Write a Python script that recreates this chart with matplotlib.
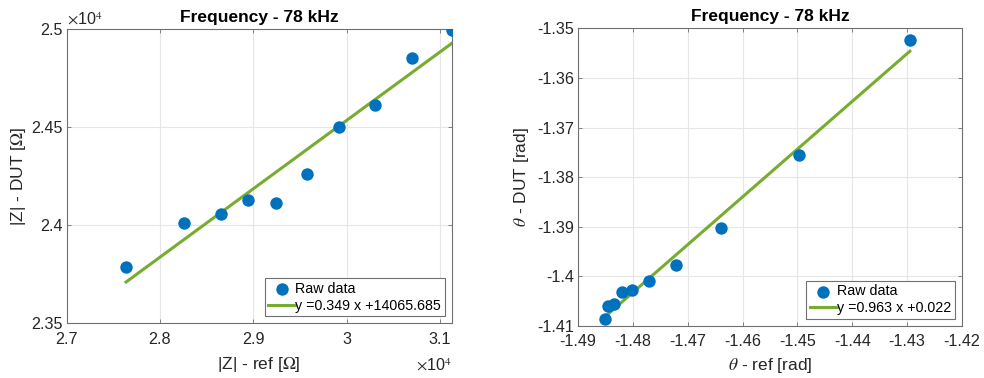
import matplotlib
matplotlib.use("Agg")
import matplotlib.pyplot as plt
import numpy as np
from matplotlib.ticker import FuncFormatter, FixedLocator

plt.rcParams['font.family'] = ['Liberation Sans', 'DejaVu Sans']
plt.rcParams['mathtext.fontset'] = 'stix'

# ---- data: magnitude ----
z_ref = [27636, 28254, 28657, 28939, 29243, 29571, 29921, 30304, 30704, 31125]
z_dut = [23786, 24012, 24056, 24128, 24116, 24264, 24502, 24614, 24854, 24998]
z_slope, z_icpt = 0.349, 14065.685
z_fit_label = "y =0.349 x +14065.685"

# ---- data: phase ----
th_ref = [-1.4851, -1.4845, -1.4834, -1.4819, -1.4802, -1.4770, -1.4721, -1.4639, -1.4498, -1.4295]
th_dut = [-1.4086, -1.4060, -1.4055, -1.4032, -1.4027, -1.4009, -1.3977, -1.3902, -1.3756, -1.3523]
th_slope, th_icpt = 0.963, 0.022
th_fit_label = "y =0.963 x +0.022"

title = "Frequency - 78 kHz"
z_xticks = [27000, 28000, 29000, 30000, 31000]
z_yticks = [23500, 24000, 24500, 25000]
th_xticks = [-1.49, -1.48, -1.47, -1.46, -1.45, -1.44, -1.43, -1.42]
th_yticks = [-1.41, -1.40, -1.39, -1.38, -1.37, -1.36, -1.35]

BLUE = '#0072BD'
GREEN = '#77AC30'
TXT = '#262626'
AX = '#707070'
TICK_FS = 11.6
LAB_FS = 12.5
LEG_FS = 10.3

fig = plt.figure(figsize=(9.84, 3.78), dpi=100)
ax1 = fig.add_axes([0.0678, 0.1447, 0.3913, 0.7778])
ax2 = fig.add_axes([0.5874, 0.1376, 0.3902, 0.7874])


def style(ax):
    for s in ax.spines.values():
        s.set_color(AX)
        s.set_linewidth(0.8)
    ax.tick_params(direction='in', length=3, width=0.6, colors=AX,
                   labelcolor=TXT, labelsize=TICK_FS, top=True, right=True)
    ax.tick_params(axis='x', pad=6)
    ax.tick_params(axis='y', pad=3)
    ax.grid(True, color='#e6e6e6', linewidth=0.8)
    ax.set_axisbelow(True)
    ax.set_title(title, fontsize=12.5, fontweight='bold', color='black', pad=5)


def gfmt(scale=1.0):
    return FuncFormatter(lambda v, p: ('%g' % round(v / scale, 6)))


def legend(ax):
    leg = ax.legend(loc='lower right', fontsize=LEG_FS, fancybox=False, framealpha=1,
                    edgecolor=AX, handlelength=1.9, handletextpad=0.0,
                    borderaxespad=0.5, borderpad=0.25, labelspacing=0.2)
    leg.get_frame().set_linewidth(0.8)
    return leg


# left
style(ax1)
ax1.scatter(z_ref, z_dut, s=80, color=BLUE, zorder=3, label='Raw data', linewidths=0)
xx = np.array([min(z_ref), max(z_ref)])
ax1.plot(xx, z_slope * xx + z_icpt, color=GREEN, lw=2.2, zorder=2, label=z_fit_label)
ax1.set_xlim(27000, max(z_ref))
ax1.set_ylim(23500, 25000)
ax1.xaxis.set_major_locator(FixedLocator(z_xticks))
ax1.yaxis.set_major_locator(FixedLocator(z_yticks))
ax1.xaxis.set_major_formatter(gfmt(1e4))
ax1.yaxis.set_major_formatter(gfmt(1e4))
ax1.set_xlabel(r'|Z| - ref [$\Omega$]', fontsize=LAB_FS, color=TXT, labelpad=6)
ax1.set_ylabel(r'|Z| - DUT [$\Omega$]', fontsize=LAB_FS, color=TXT, labelpad=2)
ax1.text(0.0, 1.005, r'$\times$10$^4$', transform=ax1.transAxes, fontsize=TICK_FS,
         color=TXT, ha='left', va='bottom')
ax1.text(1.0, -0.115, r'$\times$10$^4$', transform=ax1.transAxes, fontsize=TICK_FS,
         color=TXT, ha='right', va='top')
legend(ax1)

# right
style(ax2)
ax2.scatter(th_ref, th_dut, s=80, color=BLUE, zorder=3, label='Raw data', linewidths=0)
xx2 = np.array([min(th_ref), max(th_ref)])
ax2.plot(xx2, th_slope * xx2 + th_icpt, color=GREEN, lw=2.2, zorder=2, label=th_fit_label)
ax2.set_xlim(-1.49, -1.42)
ax2.set_ylim(-1.41, -1.35)
ax2.xaxis.set_major_locator(FixedLocator(th_xticks))
ax2.yaxis.set_major_locator(FixedLocator(th_yticks))
ax2.xaxis.set_major_formatter(gfmt())
ax2.yaxis.set_major_formatter(gfmt())
ax2.set_xlabel(r'$\theta$ - ref [rad]', fontsize=LAB_FS, color=TXT, labelpad=5)
ax2.set_ylabel(r'$\theta$ - DUT [rad]', fontsize=LAB_FS, color=TXT, labelpad=4)
legend(ax2)

fig.savefig('out.png', dpi=100)
